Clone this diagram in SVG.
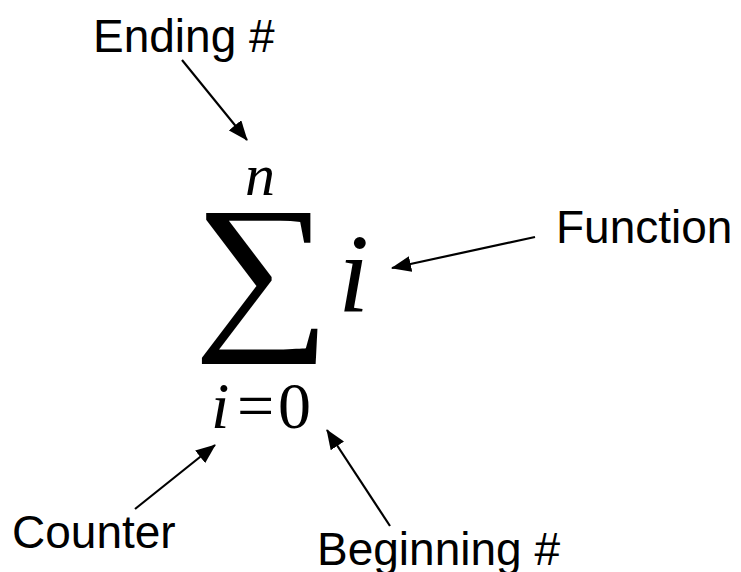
<svg xmlns="http://www.w3.org/2000/svg" width="741" height="572" viewBox="0 0 741 572">
<style>
.lbl{font-family:"Liberation Sans",Arial,sans-serif;font-size:46px;fill:#000}
.m{font-family:"Liberation Serif","Times New Roman",serif;fill:#000}
.it{font-style:italic}
.c{stroke:#000;stroke-width:2.2;fill:none;marker-end:url(#ah)}
</style>
<defs>
<marker id="ah" markerUnits="userSpaceOnUse" markerWidth="20" markerHeight="16" viewBox="0 0 20 16" refX="19" refY="8" orient="auto">
<path d="M0,0 L20,8 L0,16 Z" fill="#000"/>
</marker>
</defs>
<rect width="741" height="572" fill="#fff"/>
<g id="formula">
<text class="m" x="262" y="327" font-size="174" text-anchor="middle" transform="translate(262,0) scale(1.11,1) translate(-262,0)">∑</text>
<text class="m it" x="245" y="195" font-size="60">n</text>
<text class="m it" x="338" y="312" font-size="112">i</text>
<text class="m it" x="211" y="428" font-size="66">i</text>
<text class="m" x="237" y="428" font-size="66">=</text>
<text class="m" x="278" y="428" font-size="66">0</text>
</g>
<g id="ending"><text class="lbl" x="93" y="52">Ending #</text></g>
<g id="function"><text class="lbl" x="556" y="243">Function</text></g>
<g id="counter"><text class="lbl" x="12" y="548">Counter</text></g>
<g id="beginning"><text class="lbl" x="317" y="565" font-size="47">Beginning #</text></g>
<g id="connectors">
<line class="c" x1="182" y1="60" x2="247" y2="140"/>
<line class="c" x1="535" y1="237" x2="392" y2="268"/>
<line class="c" x1="135" y1="509" x2="215" y2="445"/>
<line class="c" x1="390" y1="526" x2="327" y2="430"/>
</g>
</svg>
